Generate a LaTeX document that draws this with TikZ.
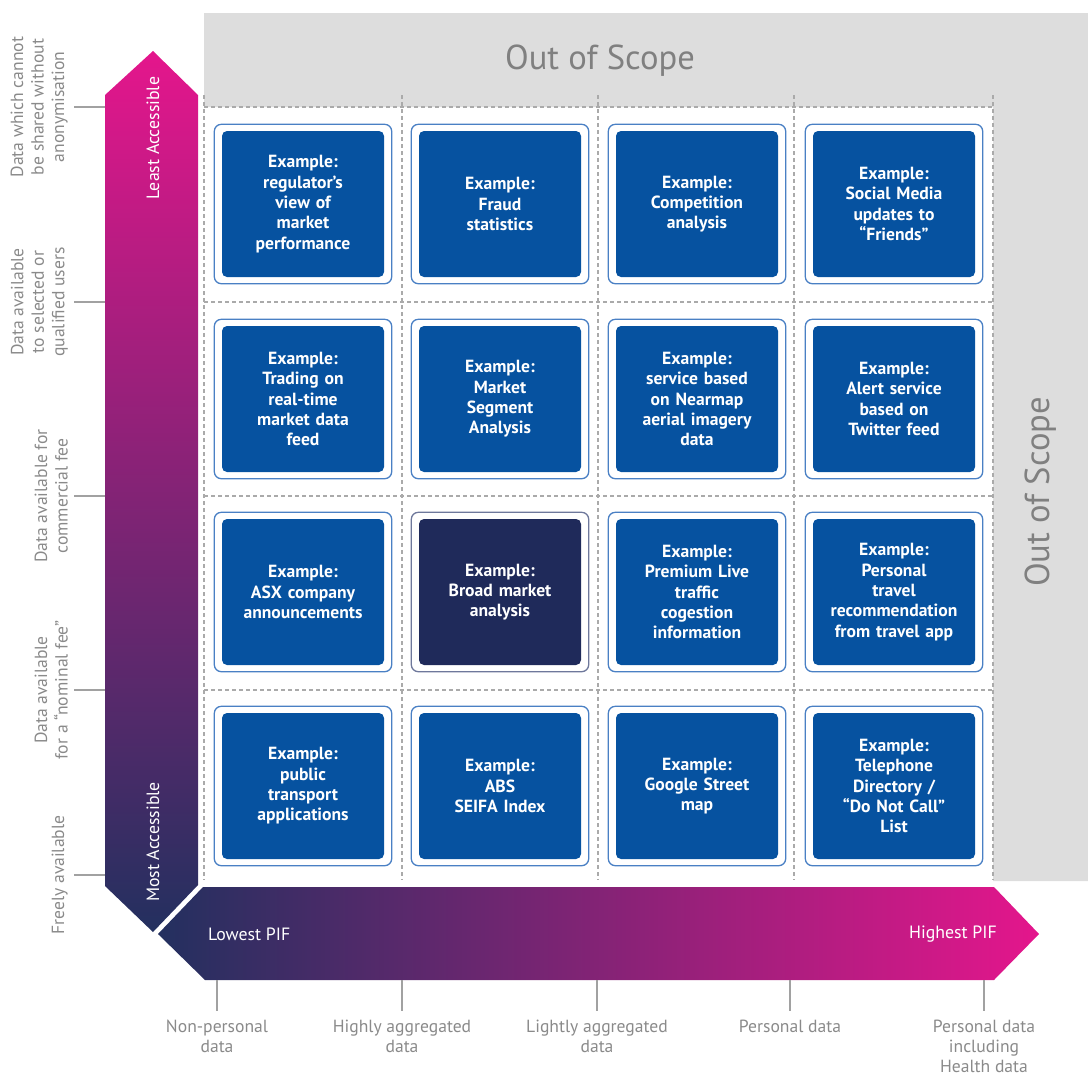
\documentclass[tikz,border=0pt]{standalone}
\usepackage{fontspec}
\setmainfont{PT Sans}
\definecolor{boxblue}{RGB}{6,82,160}
\definecolor{boxedge}{RGB}{74,128,196}
\definecolor{darkbox}{RGB}{31,42,90}
\definecolor{darkedge}{RGB}{110,120,155}
\definecolor{scopegray}{RGB}{221,221,221}
\definecolor{dashgray}{RGB}{170,170,170}
\definecolor{labelgray}{RGB}{138,138,138}
\definecolor{scopetext}{RGB}{128,128,128}
\definecolor{magentaA}{RGB}{228,22,140}
\definecolor{navyA}{RGB}{35,48,95}
\newcommand\mkbox[6]{%
  \node[innerbox, fill=#4] (#1) at (#2,#3) {#6};
  \draw[draw=#5, line width=1.3pt, rounded corners=7pt]
    ([xshift=-7.5pt,yshift=-6.5pt]#1.south west) rectangle ([xshift=7.5pt,yshift=6.5pt]#1.north east);}
\begin{document}
\begin{tikzpicture}[x=1pt,y=-1pt,
  innerbox/.style={rounded corners=5pt, minimum width=162pt, minimum height=146pt,
    inner sep=0pt, text width=158pt, align=center, text=white,
    font=\bfseries\fontsize{17.6}{20.3}\selectfont},
  gridline/.style={draw=dashgray, line width=1.3pt, dash pattern=on 4pt off 3pt},
  tickline/.style={draw=labelgray!80, line width=1.5pt},
  axislabel/.style={text=labelgray, align=center, inner sep=0pt,
    font=\fontsize{17.6}{20.5}\selectfont},
  bottomlabel/.style={axislabel, font=\fontsize{17.6}{20}\selectfont},
  arrowlabel/.style={text=white, inner sep=0pt, font=\fontsize{17.8}{20}\selectfont},
  scopelabel/.style={text=scopetext, inner sep=0pt, font=\fontsize{34.6}{38}\selectfont}]
\useasboundingbox (0,0) rectangle (1088,1077);
% out of scope band
\fill[scopegray] (204,13) -- (1088,13) -- (1088,881) -- (993,881) -- (993,107) -- (204,107) -- cycle;
\node[scopelabel] (scopetop) at (600,61) {Out of Scope};
\node[scopelabel, rotate=90] (scoperight) at (1041,492) {Out of Scope};
% grid
\foreach \gx in {204,402,598,794,993} \draw[gridline] (\gx,95) -- (\gx,880);
\foreach \gy in {107,302,496,690} \draw[gridline] (204,\gy) -- (993,\gy);
% vertical arrow
\shade[top color=magentaA, bottom color=navyA]
  (105,95) -- (153,51) -- (198,95) -- (198,885) -- (153,932) -- (105,886) -- cycle;
\node[arrowlabel, rotate=90] (least) at (153,138) {Least Accessible};
\node[arrowlabel, rotate=90] (most) at (153,842) {Most Accessible};
% horizontal arrow
\shade[left color=navyA, right color=magentaA]
  (203,887) -- (994,887) -- (1039,934) -- (994,980) -- (205,980) -- (158,934) -- cycle;
\node[arrowlabel, anchor=west] (lowest) at (208,934) {Lowest PIF};
\node[arrowlabel, anchor=east] (highest) at (997,934) {Highest PIF};
% left ticks and labels
\foreach \ty/\nm/\txt in {107/la/{Data which cannot\\be shared without\\anonymisation},
  302/lb/{Data available\\to selected or\\qualified users},
  496/lc/{Data available for\\commercial fee},
  690/ld/{Data available\\for a “nominal fee”},
  875/le/{Freely available}} {
  \coordinate (t\nm) at (74,\ty);
  \draw[tickline] (t\nm) -- (105,\ty);
  \node[axislabel, rotate=90, anchor=south] (\nm) at (68,\ty) {\txt};
}
% bottom ticks and labels
\foreach \tx/\nm/\txt in {217/ba/{Non-personal\\data},
  402/bb/{Highly aggregated\\data},
  597/bc/{Lightly aggregated\\data},
  790/bd/{Personal data},
  984/be/{Personal data\\including\\Health data}} {
  \coordinate (t\nm) at (\tx,1011);
  \draw[tickline] (\tx,980) -- (t\nm);
  \node[bottomlabel, anchor=north] (\nm) at (\tx,1020) {\txt};
}
% example boxes
\mkbox{b11}{303}{204}{boxblue}{boxedge}{Example:\\regulator’s\\view of\\market\\performance}
\mkbox{b12}{500}{204}{boxblue}{boxedge}{Example:\\Fraud\\statistics}
\mkbox{b13}{697}{204}{boxblue}{boxedge}{Example:\\Competition\\analysis}
\mkbox{b14}{894}{204}{boxblue}{boxedge}{Example:\\Social Media\\updates to\\“Friends”}
\mkbox{b21}{303}{399}{boxblue}{boxedge}{Example:\\Trading on\\real-time\\market data\\feed}
\mkbox{b22}{500}{399}{boxblue}{boxedge}{Example:\\Market\\Segment\\Analysis}
\mkbox{b23}{697}{399}{boxblue}{boxedge}{Example:\\service based\\on Nearmap\\aerial imagery\\data}
\mkbox{b24}{894}{399}{boxblue}{boxedge}{Example:\\Alert service\\based on\\Twitter feed}
\mkbox{b31}{303}{592}{boxblue}{boxedge}{Example:\\ASX company\\announcements}
\mkbox{b32}{500}{592}{darkbox}{darkedge}{Example:\\Broad market\\analysis}
\mkbox{b33}{697}{592}{boxblue}{boxedge}{Example:\\Premium Live\\traffic\\cogestion\\information}
\mkbox{b34}{894}{592}{boxblue}{boxedge}{Example:\\Personal\\travel\\recommendation\\from travel app}
\mkbox{b41}{303}{786}{boxblue}{boxedge}{Example:\\public\\transport\\applications}
\mkbox{b42}{500}{786}{boxblue}{boxedge}{Example:\\ABS\\SEIFA Index}
\mkbox{b43}{697}{786}{boxblue}{boxedge}{Example:\\Google Street\\map}
\mkbox{b44}{894}{786}{boxblue}{boxedge}{Example:\\Telephone\\Directory /\\“Do Not Call”\\List}
\end{tikzpicture}
\end{document}
